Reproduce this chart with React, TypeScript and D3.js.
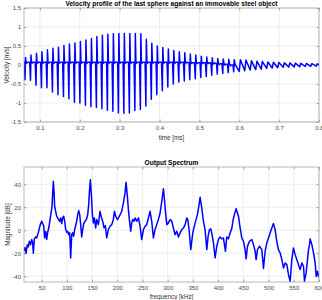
import { useEffect, useRef } from 'react'
import * as d3 from 'd3'

const FONT = '"Liberation Sans", Arial, Helvetica, sans-serif'

// velocity of last sphere, [time ms, velocity m/s] vertices
const velocity: [number, number][] = [
  [0.0600, 0.05],
  [0.0605, 0.07], [0.0625, -0.39], [0.0637, 0.20], [0.0652, 0.07], [0.0672, 0.05], [0.0690, 0.07],
  [0.0743, 0.07], [0.0763, -0.40], [0.0775, 0.26], [0.0790, 0.07], [0.0810, 0.05], [0.0828, 0.07],
  [0.0881, 0.07], [0.0901, -0.53], [0.0913, 0.31], [0.0928, 0.07], [0.0948, 0.05], [0.0966, 0.07],
  [0.1018, 0.07], [0.1038, -0.60], [0.1050, 0.35], [0.1065, 0.07], [0.1085, 0.05], [0.1103, 0.07],
  [0.1156, 0.07], [0.1176, -0.60], [0.1188, 0.40], [0.1203, 0.07], [0.1223, 0.05], [0.1241, 0.07],
  [0.1294, 0.07], [0.1314, -0.71], [0.1326, 0.44], [0.1341, 0.07], [0.1361, 0.05], [0.1379, 0.07],
  [0.1432, 0.07], [0.1452, -0.78], [0.1464, 0.47], [0.1479, 0.07], [0.1499, 0.05], [0.1517, 0.07],
  [0.1570, 0.07], [0.1590, -0.83], [0.1602, 0.51], [0.1617, 0.07], [0.1637, 0.05], [0.1655, 0.07],
  [0.1707, 0.07], [0.1727, -0.89], [0.1739, 0.55], [0.1754, 0.07], [0.1774, 0.05], [0.1792, 0.07],
  [0.1845, 0.07], [0.1865, -0.98], [0.1877, 0.58], [0.1892, 0.07], [0.1912, 0.05], [0.1930, 0.07],
  [0.1983, 0.07], [0.2003, -1.00], [0.2015, 0.62], [0.2030, 0.07], [0.2050, 0.05], [0.2068, 0.07],
  [0.2121, 0.07], [0.2141, -1.06], [0.2153, 0.66], [0.2168, 0.07], [0.2188, 0.05], [0.2206, 0.07],
  [0.2259, 0.07], [0.2279, -1.10], [0.2291, 0.70], [0.2306, 0.07], [0.2326, 0.05], [0.2344, 0.07],
  [0.2396, 0.07], [0.2416, -1.12], [0.2428, 0.75], [0.2443, 0.07], [0.2463, 0.05], [0.2481, 0.07],
  [0.2534, 0.07], [0.2554, -1.15], [0.2566, 0.78], [0.2581, 0.07], [0.2601, 0.05], [0.2619, 0.07],
  [0.2672, 0.07], [0.2692, -1.19], [0.2704, 0.81], [0.2719, 0.07], [0.2739, 0.05], [0.2757, 0.07],
  [0.2810, 0.07], [0.2830, -1.22], [0.2842, 0.82], [0.2857, 0.07], [0.2877, 0.05], [0.2895, 0.07],
  [0.2948, 0.07], [0.2968, -1.26], [0.2980, 0.83], [0.2995, 0.07], [0.3015, 0.05], [0.3033, 0.07],
  [0.3085, 0.07], [0.3105, -1.27], [0.3117, 0.83], [0.3132, 0.07], [0.3152, 0.05], [0.3170, 0.07],
  [0.3223, 0.07], [0.3243, -1.26], [0.3255, 0.83], [0.3270, 0.07], [0.3290, 0.05], [0.3308, 0.07],
  [0.3361, 0.07], [0.3381, -1.20], [0.3393, 0.83], [0.3408, 0.07], [0.3428, 0.05], [0.3446, 0.07],
  [0.3499, 0.07], [0.3519, -1.17], [0.3531, 0.82], [0.3546, 0.07], [0.3566, 0.05], [0.3584, 0.07],
  [0.3637, 0.07], [0.3657, -1.08], [0.3669, 0.68], [0.3684, 0.07], [0.3704, 0.05], [0.3722, 0.07],
  [0.3774, 0.07], [0.3794, -0.90], [0.3806, 0.57], [0.3821, 0.07], [0.3841, 0.05], [0.3859, 0.07],
  [0.3912, 0.07], [0.3932, -0.78], [0.3944, 0.50], [0.3959, 0.07], [0.3979, 0.05], [0.3997, 0.07],
  [0.4050, 0.07], [0.4070, -0.68], [0.4082, 0.46], [0.4097, 0.07], [0.4117, 0.05], [0.4135, 0.07],
  [0.4188, 0.07], [0.4208, -0.58], [0.4220, 0.42], [0.4235, 0.07], [0.4255, 0.05], [0.4273, 0.07],
  [0.4326, 0.07], [0.4346, -0.50], [0.4358, 0.38], [0.4373, 0.07], [0.4393, 0.05], [0.4411, 0.07],
  [0.4463, 0.07], [0.4483, -0.45], [0.4495, 0.35], [0.4510, 0.07], [0.4530, 0.05], [0.4548, 0.07],
  [0.4601, 0.07], [0.4621, -0.42], [0.4633, 0.32], [0.4648, 0.07], [0.4668, 0.05], [0.4686, 0.07],
  [0.4739, 0.06], [0.4759, -0.39], [0.4771, 0.29], [0.4786, 0.06], [0.4806, 0.04], [0.4824, 0.06],
  [0.4877, 0.06], [0.4897, -0.36], [0.4909, 0.26], [0.4924, 0.06], [0.4944, 0.04], [0.4962, 0.06],
  [0.5015, 0.06], [0.5035, -0.33], [0.5047, 0.23], [0.5062, 0.06], [0.5082, 0.04], [0.5100, 0.06],
  [0.5152, 0.06], [0.5172, -0.30], [0.5184, 0.21], [0.5199, 0.06], [0.5219, 0.04], [0.5237, 0.06],
  [0.5290, 0.05], [0.5310, -0.27], [0.5322, 0.19], [0.5337, 0.05], [0.5357, 0.03], [0.5375, 0.05],
  [0.5428, 0.04], [0.5448, -0.24], [0.5460, 0.17], [0.5478, 0.04], [0.5500, 0.01], [0.5515, 0.03],
  [0.5566, 0.03], [0.5586, -0.22], [0.5598, 0.16], [0.5618, 0.03], [0.5640, 0.0], [0.5655, 0.02],
  [0.5704, 0.02], [0.5724, -0.20], [0.5736, 0.15], [0.5758, 0.02], [0.5780, -0.02], [0.5800, 0.0],
  [0.5841, 0.0], [0.5861, -0.18], [0.5873, 0.14], [0.5900, 0.0], [0.5930, -0.04],
  [0.5999, -0.17], [0.6029, 0.14],
  [0.6137, -0.15], [0.6167, 0.13],
  [0.6275, -0.13], [0.6305, 0.11],
  [0.6413, -0.12], [0.6443, 0.10],
  [0.6550, -0.11], [0.6580, 0.09],
  [0.6688, -0.09], [0.6718, 0.08],
  [0.6826, -0.08], [0.6856, 0.07],
  [0.6964, -0.07], [0.6994, 0.065],
  [0.7102, -0.06], [0.7132, 0.06],
  [0.7239, -0.055], [0.7269, 0.055],
  [0.7377, -0.05], [0.7407, 0.05],
  [0.7515, -0.045], [0.7545, 0.045],
  [0.7653, -0.04], [0.7683, 0.04],
  [0.7791, -0.035], [0.7821, 0.035],
  [0.7928, -0.03], [0.7958, 0.03],
  [0.8000, 0.01],
]

// output spectrum, [frequency kHz, magnitude dB]
const spectrum: [number, number][] = [
  [15, -18], [17, -15], [19, -20], [21.6, -12.5], [23.6, -14.5], [25.6, -9.6], [28.2, -12.5],
  [30.2, -8], [32.2, -11], [33.5, -20], [35.5, -7.5], [38.1, -5.8], [40.1, -6.7], [42.1, -3.8],
  [44.1, -1], [46.1, 3], [48.1, 5.8], [50.1, 7.8], [52, 5.8], [54, 4], [56, -6.7], [58, -1],
  [60, -8], [62, -1.7], [64.6, 3], [66.6, 9.3], [68.6, 15], [70.6, 21], [71.9, 32.5], [73.2, 42.6],
  [74.5, 33.9], [75.8, 20.9], [77.8, 16.5], [79.8, 12.2], [81.8, 10.7], [83.8, 9.3], [85.8, 7.8],
  [87.8, 10.7], [89.7, 5.8], [91.7, 10.7], [93.7, 12.2], [95.7, 7.8], [97.7, 0.6], [99.7, -1.7],
  [101.6, -0.9], [103.6, -3.8], [105.6, -2.3], [107.6, -24], [109.6, -3.8], [111.6, -2.3],
  [113.5, -5.2], [115.5, 0.6], [117.5, 4.1], [119.5, 7.8], [121.5, 13.6], [123.5, 17.1],
  [125.5, 13.6], [127.4, 4.9], [129.4, -5.8], [131.4, 0.6], [133.4, 5.8], [136, 7.8], [138.7, 9.3],
  [141.3, 13.6], [143.3, 22.3], [144.6, 32.5], [146.6, 44],
  [148.6, 31], [150.6, 13.6], [152.6, 6.4], [154.6, 10.7], [157.2, 2], [159.2, 9.3], [162.5, 4.9],
  [165.8, 16.5], [167.8, 12.2], [171.1, 7.8], [173.7, 2], [176.4, 4.1], [179, -6.7], [182.3, 0.6],
  [185.6, 3.5], [189, 4.9], [192.3, 9.3], [194.2, 16.5], [196.9, 12.2], [200.2, 9.3], [204.2, 12.2],
  [208.8, 16.5], [212.1, 23.8], [215.4, 32.5], [217.4, 41.7],
  [220, 29.6], [222, 18], [224, 9.3], [226.6, -0.9], [228.6, 6.4], [230.6, 9.3], [233.3, 7.8],
  [235.3, 10.7], [238.6, 7.8], [241.9, 10.7], [245.2, 3.5], [248.5, -8.1], [251.8, 0.6], [255.1, 3.5],
  [258.4, 4.9], [261.7, 10.7], [265, 16.5], [268.3, 7.8], [271.6, -6.7], [274.9, 0.6], [278.2, 4.9],
  [281.5, 9.3], [284.9, 15], [288.2, 25.2], [291.5, 36],
  [293.5, 26.7], [296.1, 13.6], [298.1, 4.9], [301.4, 6.4], [304.7, 9.3], [308, 7.8], [311.3, 2],
  [314.6, -3.8], [317.9, -0.9], [321.2, -5.8], [324.5, -2.3], [327.8, 0.6], [331.2, 2], [334.5, 4.9],
  [337.8, 10.7], [339.8, 9.3], [342.4, 0.6], [345.7, -16.8], [349.7, -2.3], [354.3, 6.4],
  [358.9, 13.6], [362.2, 22.3], [364.2, 28.7],
  [367.5, 19.4], [370.8, 7.8], [374.1, 0.6], [377.5, -16.8], [380.1, -5.2], [382.7, 0.6], [385.4, 1.2],
  [388, -3.8], [390.7, -11], [394, -24], [397.3, -13.9], [400.6, -8.1], [403.9, -5.8], [407.2, -7.5],
  [410.5, -6.7], [414.5, -18.3], [417.1, -5.8], [420.4, -7.5], [423.7, -2.3], [427, 1.4],
  [430.4, 10.7], [435.7, 18.8],
  [440.3, 12.2], [443.6, 2], [446.9, -6.7], [450.2, -9.6], [453.5, -16.8], [455.5, -24.9],
  [458.2, -13.9], [462.1, -9.6], [466.7, -8.1], [470, -12.5], [473.4, -18.3], [475.3, -25.5],
  [478, -16.8], [482, -13.9], [486.6, -16.8], [489.9, -33.3], [493.2, -18.3], [496.5, -11],
  [499.8, -6.7], [503.1, -2.3], [506.4, 2], [509.7, 5.8], [513, 0.6], [516.3, -9.6], [519.6, -16.8],
  [522.9, -19.7], [526.3, -25.5], [529.6, -32.8], [532.9, -28.4], [536.2, -29.9], [539.5, -38.6],
  [542.8, -44.3], [546.1, -25.5], [549.4, -15.4], [552.7, -21.2], [556, -25.5], [559.3, -29.9],
  [562.6, -34.2], [566, -28.4], [569.3, -31.3], [571.2, -44.3], [574.5, -37.1], [577.2, -25.5],
  [579.2, -16.8], [581.2, -12.5], [582.5, -7.5], [585.8, -12.5], [589.1, -19.7], [592.4, -28.4],
  [594.4, -40], [597, -35.7], [599, -40], [600, -37.7],
]

const timeTicks = [0.1, 0.2, 0.3, 0.4, 0.5, 0.6, 0.7, 0.8]
const velocityTicks = [-1.5, -1, -0.5, 0, 0.5, 1, 1.5]
const freqTicks = [50, 100, 150, 200, 250, 300, 350, 400, 450, 500, 550, 600]
const magTicks = [-40, -20, 0, 20, 40]

type Panel = {
  id: string
  box: { left: number; right: number; top: number; bottom: number }
  xDomain: [number, number]
  yDomain: [number, number]
  xTicks: number[]
  yTicks: number[]
  points: [number, number][]
  title: string
  xLabel: string
  yLabel: string
  titleY: number
  xLabelY: number
  yLabelX: number
}

function drawPanel(svg: d3.Selection<SVGSVGElement, unknown, null, undefined>, p: Panel) {
  const { left, right, top, bottom } = p.box
  const x = d3.scaleLinear().domain(p.xDomain).range([left, right])
  const y = d3.scaleLinear().domain(p.yDomain).range([bottom, top])
  const g = svg.append('g')

  g.append('rect')
    .attr('x', left).attr('y', top)
    .attr('width', right - left).attr('height', bottom - top)
    .attr('fill', '#fff')

  // grid
  g.selectAll('.gx').data(p.xTicks).join('line')
    .attr('x1', (d) => x(d)).attr('x2', (d) => x(d))
    .attr('y1', top).attr('y2', bottom)
    .attr('stroke', '#e2e2e2').attr('stroke-width', 0.6)
  g.selectAll('.gy').data(p.yTicks).join('line')
    .attr('x1', left).attr('x2', right)
    .attr('y1', (d) => y(d)).attr('y2', (d) => y(d))
    .attr('stroke', '#e2e2e2').attr('stroke-width', 0.6)

  svg.append('clipPath').attr('id', p.id)
    .append('rect')
    .attr('x', left).attr('y', top)
    .attr('width', right - left).attr('height', bottom - top)

  const line = d3.line<[number, number]>()
    .x((d) => x(d[0]))
    .y((d) => y(d[1]))

  g.append('path')
    .datum(p.points)
    .attr('clip-path', `url(#${p.id})`)
    .attr('d', line)
    .attr('fill', 'none')
    .attr('stroke', '#0000ff')
    .attr('stroke-width', 1.5)
    .attr('stroke-linejoin', 'round')

  const fmt = (d: d3.NumberValue) => String(+d)

  const xa = g.append('g')
    .attr('transform', `translate(0,${bottom})`)
    .call(d3.axisBottom(x).tickValues(p.xTicks).tickFormat(fmt).tickSize(-2.5).tickPadding(4))
  const ya = g.append('g')
    .attr('transform', `translate(${left},0)`)
    .call(d3.axisLeft(y).tickValues(p.yTicks).tickFormat(fmt).tickSize(-2.5).tickPadding(3))
  g.append('g')
    .attr('transform', `translate(0,${top})`)
    .call(d3.axisTop(x).tickValues(p.xTicks).tickFormat(() => '').tickSize(-2.5))
  g.append('g')
    .attr('transform', `translate(${right},0)`)
    .call(d3.axisRight(y).tickValues(p.yTicks).tickFormat(() => '').tickSize(-2.5))

  g.selectAll('.domain').remove()
  g.selectAll('.tick line').attr('stroke', '#555').attr('stroke-width', 0.5)
  ;[xa, ya].forEach((a) =>
    a.selectAll('text')
      .attr('fill', '#4a4a4a')
      .attr('font-size', '6px')
      .attr('font-family', FONT)
  )

  g.append('rect')
    .attr('x', left).attr('y', top)
    .attr('width', right - left).attr('height', bottom - top)
    .attr('fill', 'none')
    .attr('stroke', '#8a8a8a')
    .attr('stroke-width', 0.6)

  g.append('text')
    .attr('x', (left + right) / 2).attr('y', p.titleY)
    .attr('text-anchor', 'middle')
    .attr('font-family', FONT).attr('font-size', '6.6px').attr('font-weight', 'bold')
    .attr('fill', '#000')
    .text(p.title)

  g.append('text')
    .attr('x', (left + right) / 2).attr('y', p.xLabelY)
    .attr('text-anchor', 'middle')
    .attr('font-family', FONT).attr('font-size', '6.3px')
    .attr('fill', '#333')
    .text(p.xLabel)

  g.append('text')
    .attr('transform', `translate(${p.yLabelX},${(top + bottom) / 2}) rotate(-90)`)
    .attr('text-anchor', 'middle')
    .attr('font-family', FONT).attr('font-size', '6.3px')
    .attr('fill', '#333')
    .text(p.yLabel)
}

export default function App() {
  const ref = useRef<SVGSVGElement>(null)

  useEffect(() => {
    if (!ref.current) return
    const svg = d3.select(ref.current)
    svg.selectAll('*').remove()

    drawPanel(svg, {
      id: 'clip-vel',
      box: { left: 24, right: 319, top: 8, bottom: 122 },
      xDomain: [0.06, 0.8],
      yDomain: [-1.5, 1.5],
      xTicks: timeTicks,
      yTicks: velocityTicks,
      points: velocity,
      title: 'Velocity profile of the last sphere against an immovable steel object',
      xLabel: 'time [ms]',
      yLabel: 'Velocity [m/s]',
      titleY: 5.5,
      xLabelY: 139.5,
      yLabelX: 9,
    })

    drawPanel(svg, {
      id: 'clip-spec',
      box: { left: 24, right: 319, top: 167, bottom: 282 },
      xDomain: [15, 600],
      yDomain: [-45, 55],
      xTicks: freqTicks,
      yTicks: magTicks,
      points: spectrum,
      title: 'Output Spectrum',
      xLabel: 'frequency [kHz]',
      yLabel: 'Magnitude [dB]',
      titleY: 164.5,
      xLabelY: 299,
      yLabelX: 10,
    })

    return () => {
      svg.selectAll('*').remove()
    }
  }, [])

  return (
    <svg
      ref={ref}
      width={322}
      height={300}
      style={{ position: 'absolute', left: 0, top: 0, background: '#fff' }}
    />
  )
}
